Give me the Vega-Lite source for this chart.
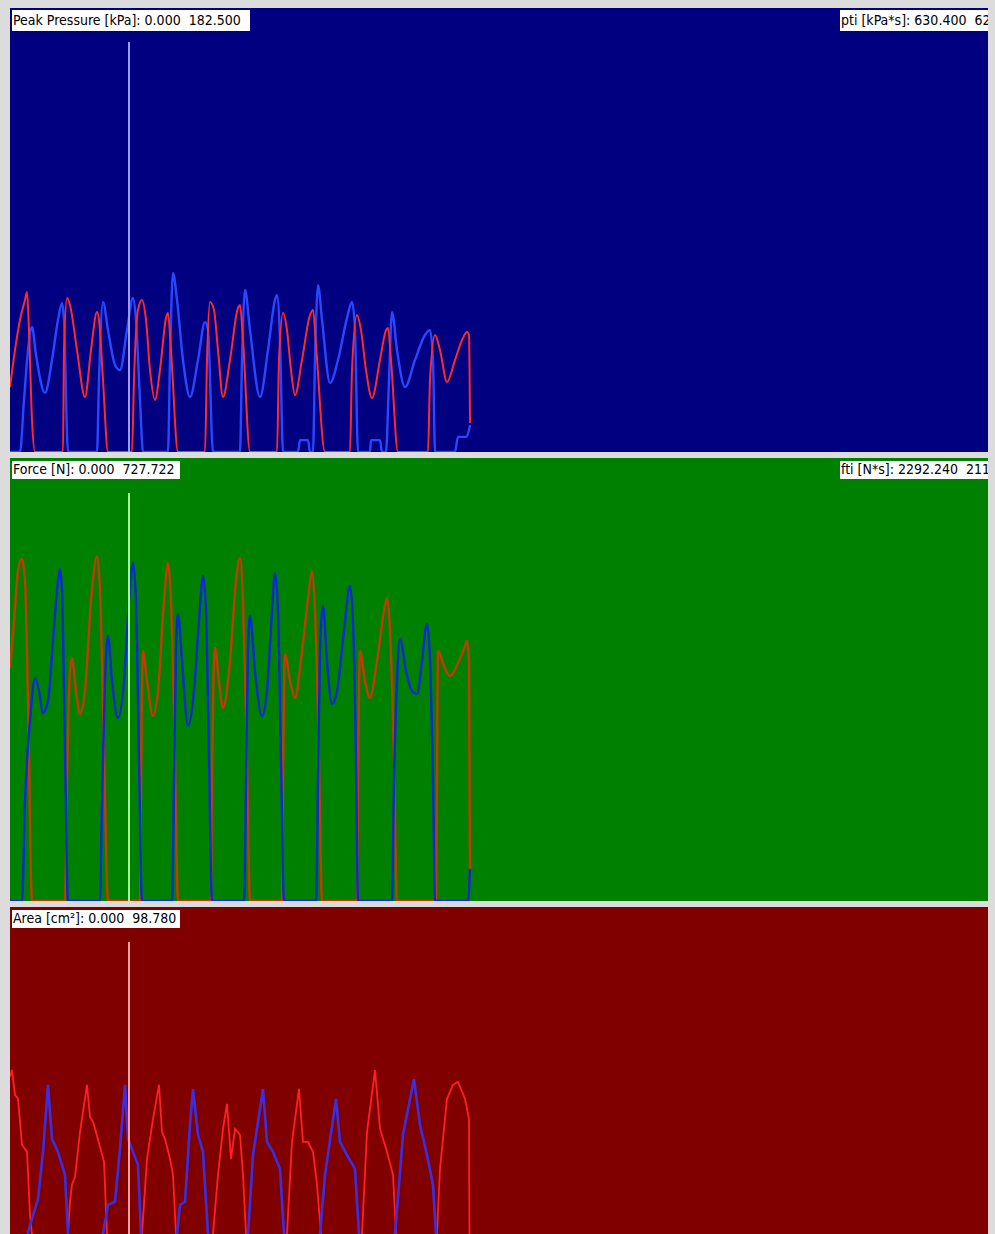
{
  "$schema": "https://vega.github.io/schema/vega-lite/v6.json",
  "background": "#dcdcdc",
  "padding": {"left": 10, "top": 8, "right": 7, "bottom": 0},
  "spacing": 5,
  "config": {"view": {"stroke": null}, "concat": {"spacing": 5}},
  "resolve": {"scale": {"x": "independent", "y": "independent"}},
  "datasets": {
    "pressure": [
      {"t":0,"foot":"right","v":0},{"t":10,"foot":"right","v":0},{"t":14,"foot":"right","v":21.4},{"t":18,"foot":"right","v":41.9},{"t":22,"foot":"right","v":51.4},{"t":26,"foot":"right","v":39.9},{"t":35,"foot":"right","v":24.3},{"t":42,"foot":"right","v":37.8},{"t":48,"foot":"right","v":54.3},{"t":52,"foot":"right","v":61.2},{"t":54,"foot":"right","v":54.3},{"t":58,"foot":"right","v":0},
      {"t":87,"foot":"right","v":0},{"t":89,"foot":"right","v":29.6},{"t":93,"foot":"right","v":61.7},{"t":98,"foot":"right","v":50.1},{"t":105,"foot":"right","v":35.8},{"t":110,"foot":"right","v":33.7},{"t":117,"foot":"right","v":50.1},{"t":123,"foot":"right","v":63.3},{"t":126,"foot":"right","v":54.3},{"t":130,"foot":"right","v":21.4},{"t":133,"foot":"right","v":0},
      {"t":158,"foot":"right","v":0},{"t":160,"foot":"right","v":37.8},{"t":163,"foot":"right","v":73.6},{"t":167,"foot":"right","v":62.5},{"t":173,"foot":"right","v":37.8},{"t":180,"foot":"right","v":22.6},{"t":188,"foot":"right","v":37.8},{"t":195,"foot":"right","v":53.4},{"t":198,"foot":"right","v":50.1},{"t":203,"foot":"right","v":0},
      {"t":230,"foot":"right","v":0},{"t":232,"foot":"right","v":37.8},{"t":235,"foot":"right","v":66.6},{"t":240,"foot":"right","v":50.1},{"t":250,"foot":"right","v":22.6},{"t":258,"foot":"right","v":41.9},{"t":265,"foot":"right","v":62.5},{"t":267,"foot":"right","v":64.5},{"t":270,"foot":"right","v":46.0},{"t":273,"foot":"right","v":0},
      {"t":288,"foot":"right","v":0},{"t":290,"foot":"right","v":4.9},{"t":298,"foot":"right","v":4.9},{"t":300,"foot":"right","v":0},{"t":303,"foot":"right","v":0},{"t":305,"foot":"right","v":37.8},{"t":308,"foot":"right","v":68.6},{"t":312,"foot":"right","v":54.3},{"t":320,"foot":"right","v":28.4},{"t":328,"foot":"right","v":37.8},{"t":337,"foot":"right","v":55.1},{"t":342,"foot":"right","v":61.7},{"t":345,"foot":"right","v":50.1},{"t":348,"foot":"right","v":0},
      {"t":360,"foot":"right","v":0},{"t":361,"foot":"right","v":4.9},{"t":370,"foot":"right","v":4.9},{"t":372,"foot":"right","v":0},{"t":376,"foot":"right","v":0},{"t":379,"foot":"right","v":29.6},{"t":382,"foot":"right","v":57.5},{"t":387,"foot":"right","v":41.9},{"t":395,"foot":"right","v":26.7},{"t":405,"foot":"right","v":37.8},{"t":415,"foot":"right","v":48.1},{"t":420,"foot":"right","v":50.1},{"t":423,"foot":"right","v":37.8},{"t":425,"foot":"right","v":0},
      {"t":445,"foot":"right","v":0},{"t":448,"foot":"right","v":6.2},{"t":456,"foot":"right","v":6.2},{"t":459,"foot":"right","v":9.0},{"t":460,"foot":"right","v":11.1},
      {"t":0,"foot":"left","v":26.7},{"t":5,"foot":"left","v":41.9},{"t":10,"foot":"left","v":54.3},{"t":15,"foot":"left","v":62.5},{"t":17,"foot":"left","v":65.8},{"t":19,"foot":"left","v":50.1},{"t":22,"foot":"left","v":13.2},{"t":25,"foot":"left","v":0},
      {"t":53,"foot":"left","v":0},{"t":54,"foot":"left","v":41.9},{"t":57,"foot":"left","v":63.3},{"t":60,"foot":"left","v":60.4},{"t":67,"foot":"left","v":41.9},{"t":75,"foot":"left","v":22.6},{"t":81,"foot":"left","v":41.9},{"t":87,"foot":"left","v":57.5},{"t":89,"foot":"left","v":54.3},{"t":93,"foot":"left","v":29.6},{"t":98,"foot":"left","v":0},
      {"t":122,"foot":"left","v":0},{"t":124,"foot":"left","v":29.6},{"t":128,"foot":"left","v":58.4},{"t":132,"foot":"left","v":62.5},{"t":136,"foot":"left","v":54.3},{"t":140,"foot":"left","v":33.7},{"t":145,"foot":"left","v":21.4},{"t":150,"foot":"left","v":33.7},{"t":156,"foot":"left","v":55.1},{"t":158,"foot":"left","v":57.1},{"t":161,"foot":"left","v":41.9},{"t":168,"foot":"left","v":0},
      {"t":195,"foot":"left","v":0},{"t":197,"foot":"left","v":37.8},{"t":200,"foot":"left","v":61.7},{"t":204,"foot":"left","v":58.4},{"t":208,"foot":"left","v":41.9},{"t":213,"foot":"left","v":22.6},{"t":220,"foot":"left","v":37.8},{"t":228,"foot":"left","v":59.2},{"t":230,"foot":"left","v":60.4},{"t":233,"foot":"left","v":46.0},{"t":240,"foot":"left","v":0},
      {"t":267,"foot":"left","v":0},{"t":269,"foot":"left","v":37.8},{"t":273,"foot":"left","v":57.1},{"t":277,"foot":"left","v":50.1},{"t":281,"foot":"left","v":33.7},{"t":285,"foot":"left","v":23.4},{"t":292,"foot":"left","v":37.8},{"t":300,"foot":"left","v":56.3},{"t":303,"foot":"left","v":58.4},{"t":306,"foot":"left","v":44.0},{"t":315,"foot":"left","v":0},
      {"t":340,"foot":"left","v":0},{"t":342,"foot":"left","v":33.7},{"t":347,"foot":"left","v":56.3},{"t":351,"foot":"left","v":50.1},{"t":356,"foot":"left","v":33.7},{"t":362,"foot":"left","v":22.2},{"t":370,"foot":"left","v":37.8},{"t":376,"foot":"left","v":50.1},{"t":378,"foot":"left","v":51.0},{"t":381,"foot":"left","v":37.8},{"t":388,"foot":"left","v":0},
      {"t":418,"foot":"left","v":0},{"t":420,"foot":"left","v":29.6},{"t":425,"foot":"left","v":48.1},{"t":430,"foot":"left","v":41.9},{"t":437,"foot":"left","v":28.8},{"t":445,"foot":"left","v":37.8},{"t":453,"foot":"left","v":46.9},{"t":457,"foot":"left","v":49.3},{"t":459,"foot":"left","v":48.1},{"t":460,"foot":"left","v":11.9}
    ],
    "force": [
      {"t":0,"foot":"left","v":382.7},{"t":4,"foot":"left","v":460.0},{"t":8,"foot":"left","v":542.1},{"t":12,"foot":"left","v":561.8},{"t":15,"foot":"left","v":525.7},{"t":18,"foot":"left","v":328.5},{"t":22,"foot":"left","v":0},
      {"t":55,"foot":"left","v":0},{"t":57,"foot":"left","v":197.1},{"t":60,"foot":"left","v":377.8},{"t":62,"foot":"left","v":399.2},{"t":66,"foot":"left","v":345.0},{"t":70,"foot":"left","v":307.2},{"t":75,"foot":"left","v":345.0},{"t":81,"foot":"left","v":492.8},{"t":87,"foot":"left","v":566.7},{"t":90,"foot":"left","v":509.2},{"t":94,"foot":"left","v":246.4},{"t":98,"foot":"left","v":0},
      {"t":130,"foot":"left","v":0},{"t":131,"foot":"left","v":197.1},{"t":133,"foot":"left","v":410.7},{"t":137,"foot":"left","v":361.4},{"t":143,"foot":"left","v":303.9},{"t":148,"foot":"left","v":345.0},{"t":154,"foot":"left","v":492.8},{"t":158,"foot":"left","v":555.2},{"t":161,"foot":"left","v":492.8},{"t":165,"foot":"left","v":230.0},{"t":168,"foot":"left","v":0},
      {"t":201,"foot":"left","v":0},{"t":202,"foot":"left","v":197.1},{"t":205,"foot":"left","v":415.6},{"t":209,"foot":"left","v":361.4},{"t":213,"foot":"left","v":317.0},{"t":220,"foot":"left","v":394.2},{"t":226,"foot":"left","v":525.7},{"t":230,"foot":"left","v":563.4},{"t":233,"foot":"left","v":492.8},{"t":237,"foot":"left","v":230.0},{"t":240,"foot":"left","v":0},
      {"t":272,"foot":"left","v":0},{"t":273,"foot":"left","v":197.1},{"t":275,"foot":"left","v":405.7},{"t":280,"foot":"left","v":361.4},{"t":285,"foot":"left","v":333.5},{"t":292,"foot":"left","v":410.7},{"t":299,"foot":"left","v":509.2},{"t":302,"foot":"left","v":542.1},{"t":305,"foot":"left","v":476.4},{"t":309,"foot":"left","v":230.0},{"t":312,"foot":"left","v":0},
      {"t":347,"foot":"left","v":0},{"t":348,"foot":"left","v":197.1},{"t":350,"foot":"left","v":410.7},{"t":355,"foot":"left","v":361.4},{"t":360,"foot":"left","v":333.5},{"t":367,"foot":"left","v":394.2},{"t":374,"foot":"left","v":476.4},{"t":377,"foot":"left","v":497.7},{"t":380,"foot":"left","v":443.5},{"t":384,"foot":"left","v":230.0},{"t":387,"foot":"left","v":0},
      {"t":426,"foot":"left","v":0},{"t":427,"foot":"left","v":197.1},{"t":428,"foot":"left","v":410.7},{"t":434,"foot":"left","v":386.0},{"t":440,"foot":"left","v":369.6},{"t":448,"foot":"left","v":391.0},{"t":455,"foot":"left","v":418.9},{"t":457,"foot":"left","v":427.1},{"t":459,"foot":"left","v":394.2},{"t":460,"foot":"left","v":32.9},
      {"t":0,"foot":"right","v":0},{"t":12,"foot":"right","v":0},{"t":15,"foot":"right","v":164.3},{"t":20,"foot":"right","v":295.7},{"t":25,"foot":"right","v":366.3},{"t":29,"foot":"right","v":345.0},{"t":33,"foot":"right","v":308.8},{"t":38,"foot":"right","v":328.5},{"t":43,"foot":"right","v":427.1},{"t":48,"foot":"right","v":525.7},{"t":50,"foot":"right","v":545.4},{"t":52,"foot":"right","v":509.2},{"t":55,"foot":"right","v":246.4},{"t":58,"foot":"right","v":0},
      {"t":90,"foot":"right","v":0},{"t":92,"foot":"right","v":164.3},{"t":95,"foot":"right","v":361.4},{"t":98,"foot":"right","v":435.3},{"t":102,"foot":"right","v":361.4},{"t":108,"foot":"right","v":300.6},{"t":114,"foot":"right","v":361.4},{"t":119,"foot":"right","v":492.8},{"t":123,"foot":"right","v":555.2},{"t":126,"foot":"right","v":492.8},{"t":129,"foot":"right","v":230.0},{"t":132,"foot":"right","v":0},
      {"t":162,"foot":"right","v":0},{"t":164,"foot":"right","v":197.1},{"t":166,"foot":"right","v":410.7},{"t":168,"foot":"right","v":471.5},{"t":172,"foot":"right","v":394.2},{"t":178,"foot":"right","v":287.5},{"t":184,"foot":"right","v":345.0},{"t":189,"foot":"right","v":460.0},{"t":193,"foot":"right","v":533.9},{"t":196,"foot":"right","v":476.4},{"t":199,"foot":"right","v":230.0},{"t":202,"foot":"right","v":0},
      {"t":234,"foot":"right","v":0},{"t":236,"foot":"right","v":197.1},{"t":238,"foot":"right","v":410.7},{"t":240,"foot":"right","v":468.2},{"t":245,"foot":"right","v":377.8},{"t":252,"foot":"right","v":303.9},{"t":257,"foot":"right","v":345.0},{"t":262,"foot":"right","v":476.4},{"t":265,"foot":"right","v":538.8},{"t":268,"foot":"right","v":476.4},{"t":271,"foot":"right","v":230.0},{"t":274,"foot":"right","v":0},
      {"t":306,"foot":"right","v":0},{"t":308,"foot":"right","v":197.1},{"t":310,"foot":"right","v":410.7},{"t":313,"foot":"right","v":484.6},{"t":317,"foot":"right","v":394.2},{"t":322,"foot":"right","v":323.6},{"t":327,"foot":"right","v":345.0},{"t":334,"foot":"right","v":443.5},{"t":340,"foot":"right","v":517.5},{"t":343,"foot":"right","v":460.0},{"t":346,"foot":"right","v":230.0},{"t":348,"foot":"right","v":0},
      {"t":382,"foot":"right","v":0},{"t":384,"foot":"right","v":197.1},{"t":387,"foot":"right","v":361.4},{"t":390,"foot":"right","v":430.4},{"t":396,"foot":"right","v":377.8},{"t":402,"foot":"right","v":345.0},{"t":407,"foot":"right","v":340.0},{"t":412,"foot":"right","v":394.2},{"t":417,"foot":"right","v":455.0},{"t":420,"foot":"right","v":394.2},{"t":423,"foot":"right","v":197.1},{"t":425,"foot":"right","v":0},
      {"t":458,"foot":"right","v":0},{"t":460,"foot":"right","v":52.6}
    ],
    "area": [
      {"t":0,"foot":"left","v":61.0},{"t":2,"foot":"left","v":62.5},{"t":5,"foot":"left","v":57.0},{"t":8,"foot":"left","v":56.1},{"t":12,"foot":"left","v":45.9},{"t":17,"foot":"left","v":44.3},{"t":20,"foot":"left","v":30.3},{"t":22,"foot":"left","v":25.8},{"t":23,"foot":"left","v":0},
      {"t":57,"foot":"left","v":0},{"t":58,"foot":"left","v":26},{"t":60,"foot":"left","v":33.2},{"t":62,"foot":"left","v":37.0},{"t":65,"foot":"left","v":38.7},{"t":70,"foot":"left","v":48.7},{"t":77,"foot":"left","v":59.2},{"t":80,"foot":"left","v":52.1},{"t":83,"foot":"left","v":51.0},{"t":86,"foot":"left","v":48.7},{"t":90,"foot":"left","v":45.4},{"t":94,"foot":"left","v":42.1},{"t":97,"foot":"left","v":26},{"t":98,"foot":"left","v":0},
      {"t":131,"foot":"left","v":0},{"t":132,"foot":"left","v":26},{"t":137,"foot":"left","v":42.7},{"t":143,"foot":"left","v":51.6},{"t":149,"foot":"left","v":59.2},{"t":152,"foot":"left","v":48.7},{"t":155,"foot":"left","v":47.2},{"t":160,"foot":"left","v":42.7},{"t":163,"foot":"left","v":39.2},{"t":166,"foot":"left","v":26},{"t":167,"foot":"left","v":0},
      {"t":202,"foot":"left","v":0},{"t":203,"foot":"left","v":26},{"t":208,"foot":"left","v":39.2},{"t":213,"foot":"left","v":49.4},{"t":217,"foot":"left","v":55.0},{"t":221,"foot":"left","v":42.7},{"t":225,"foot":"left","v":49.4},{"t":230,"foot":"left","v":48.1},{"t":233,"foot":"left","v":39.2},{"t":236,"foot":"left","v":26},{"t":237,"foot":"left","v":0},
      {"t":276,"foot":"left","v":0},{"t":277,"foot":"left","v":26},{"t":282,"foot":"left","v":46.5},{"t":289,"foot":"left","v":58.3},{"t":293,"foot":"left","v":46.5},{"t":298,"foot":"left","v":46.5},{"t":303,"foot":"left","v":44.3},{"t":307,"foot":"left","v":37.0},{"t":311,"foot":"left","v":26},{"t":312,"foot":"left","v":0},
      {"t":351,"foot":"left","v":0},{"t":352,"foot":"left","v":26},{"t":357,"foot":"left","v":48.7},{"t":365,"foot":"left","v":62.5},{"t":370,"foot":"left","v":49.4},{"t":377,"foot":"left","v":44.3},{"t":383,"foot":"left","v":39.2},{"t":386,"foot":"left","v":26},{"t":387,"foot":"left","v":0},
      {"t":426,"foot":"left","v":0},{"t":427,"foot":"left","v":26},{"t":430,"foot":"left","v":40.5},{"t":437,"foot":"left","v":56.1},{"t":443,"foot":"left","v":59.2},{"t":448,"foot":"left","v":59.9},{"t":455,"foot":"left","v":56.1},{"t":459,"foot":"left","v":51.6},{"t":460,"foot":"left","v":0},
      {"t":0,"foot":"right","v":0},{"t":17,"foot":"right","v":0},{"t":18,"foot":"right","v":26.5},{"t":28,"foot":"right","v":33.8},{"t":33,"foot":"right","v":44.3},{"t":38,"foot":"right","v":59.2},{"t":42,"foot":"right","v":47.2},{"t":48,"foot":"right","v":44.3},{"t":55,"foot":"right","v":39.2},{"t":58,"foot":"right","v":26},{"t":59,"foot":"right","v":0},
      {"t":92,"foot":"right","v":0},{"t":93,"foot":"right","v":26},{"t":98,"foot":"right","v":32.5},{"t":105,"foot":"right","v":33.2},{"t":110,"foot":"right","v":45.0},{"t":115,"foot":"right","v":59.2},{"t":118,"foot":"right","v":47.2},{"t":123,"foot":"right","v":44.3},{"t":128,"foot":"right","v":41.4},{"t":131,"foot":"right","v":26},{"t":132,"foot":"right","v":0},
      {"t":166,"foot":"right","v":0},{"t":167,"foot":"right","v":26},{"t":170,"foot":"right","v":32.5},{"t":175,"foot":"right","v":33.2},{"t":180,"foot":"right","v":50.3},{"t":183,"foot":"right","v":58.3},{"t":188,"foot":"right","v":48.1},{"t":193,"foot":"right","v":44.3},{"t":196,"foot":"right","v":33.2},{"t":198,"foot":"right","v":26},{"t":199,"foot":"right","v":0},
      {"t":237,"foot":"right","v":0},{"t":238,"foot":"right","v":26},{"t":243,"foot":"right","v":43.6},{"t":253,"foot":"right","v":58.3},{"t":257,"foot":"right","v":46.5},{"t":263,"foot":"right","v":44.3},{"t":270,"foot":"right","v":40.5},{"t":274,"foot":"right","v":26},{"t":275,"foot":"right","v":0},
      {"t":309,"foot":"right","v":0},{"t":310,"foot":"right","v":26},{"t":315,"foot":"right","v":39.2},{"t":326,"foot":"right","v":56.1},{"t":330,"foot":"right","v":46.5},{"t":337,"foot":"right","v":43.6},{"t":345,"foot":"right","v":40.5},{"t":349,"foot":"right","v":26},{"t":350,"foot":"right","v":0},
      {"t":384,"foot":"right","v":0},{"t":385,"foot":"right","v":26},{"t":393,"foot":"right","v":48.1},{"t":404,"foot":"right","v":60.5},{"t":410,"foot":"right","v":50.3},{"t":417,"foot":"right","v":43.6},{"t":423,"foot":"right","v":37.0},{"t":426,"foot":"right","v":26},{"t":427,"foot":"right","v":0}
    ],
    "cursor": [{"t": 119}],
    "labels": [
      {"panel": "pressure", "side": "left", "label": "Peak Pressure [kPa]: 0.000\u00a0\u00a0182.500"},
      {"panel": "pressure", "side": "right", "label": "pti [kPa*s]: 630.400\u00a0\u00a0627.520"},
      {"panel": "force", "side": "left", "label": "Force [N]: 0.000\u00a0\u00a0727.722"},
      {"panel": "force", "side": "right", "label": "fti [N*s]: 2292.240\u00a0\u00a02119.360"},
      {"panel": "area", "side": "left", "label": "Area [cm²]: 0.000\u00a0\u00a098.780"}
    ]
  },
  "vconcat": [
    {
      "width": 978, "height": 444,
      "view": {"fill": "#000080", "stroke": null},
      "layer": [
        {"data": {"name": "pressure"}, "transform": [{"filter": "datum.foot == 'right'"}],
         "mark": {"type": "line", "color": "#2848ff", "strokeWidth": 2.4, "interpolate": "monotone", "clip": true},
         "encoding": {"x": {"field": "t", "type": "quantitative", "scale": {"domain": [0, 978], "nice": false, "zero": false}, "axis": null},
                      "y": {"field": "v", "type": "quantitative", "scale": {"domain": [0, 182.5], "nice": false, "zero": false}, "axis": null}}},
        {"data": {"name": "pressure"}, "transform": [{"filter": "datum.foot == 'left'"}],
         "mark": {"type": "line", "color": "#ff2a2a", "strokeWidth": 2, "interpolate": "monotone", "clip": true},
         "encoding": {"x": {"field": "t", "type": "quantitative"}, "y": {"field": "v", "type": "quantitative"}}},
        {"data": {"name": "cursor"},
         "mark": {"type": "rule", "color": "#9c9cff", "strokeWidth": 2},
         "encoding": {"x": {"field": "t", "type": "quantitative"}, "y": {"datum": 168.5, "type": "quantitative"}, "y2": {"datum": 0}}},
        {"data": {"name": "labels"}, "transform": [{"filter": "datum.panel == 'pressure' && datum.side == 'left'"}],
         "mark": {"type": "rect", "color": "white", "clip": true},
         "encoding": {"x": {"datum": 2, "type": "quantitative"}, "x2": {"datum": 240}, "y": {"datum": 181.7, "type": "quantitative"}, "y2": {"datum": 173.0}}},
        {"data": {"name": "labels"}, "transform": [{"filter": "datum.panel == 'pressure' && datum.side == 'right'"}],
         "mark": {"type": "rect", "color": "white", "clip": true},
         "encoding": {"x": {"datum": 830, "type": "quantitative"}, "x2": {"datum": 1000}, "y": {"datum": 181.7, "type": "quantitative"}, "y2": {"datum": 173.0}}},
        {"data": {"name": "labels"}, "transform": [{"filter": "datum.panel == 'pressure' && datum.side == 'left'"}],
         "mark": {"type": "text", "align": "left", "baseline": "middle", "font": "DejaVu Sans Condensed, sans-serif", "fontSize": 14, "color": "black", "clip": true},
         "encoding": {"x": {"datum": 3, "type": "quantitative"}, "y": {"datum": 177.3, "type": "quantitative"}, "text": {"field": "label"}}},
        {"data": {"name": "labels"}, "transform": [{"filter": "datum.panel == 'pressure' && datum.side == 'right'"}],
         "mark": {"type": "text", "align": "left", "baseline": "middle", "font": "DejaVu Sans Condensed, sans-serif", "fontSize": 14, "color": "black", "clip": true},
         "encoding": {"x": {"datum": 831, "type": "quantitative"}, "y": {"datum": 177.3, "type": "quantitative"}, "text": {"field": "label"}}}
      ]
    },
    {
      "width": 978, "height": 443,
      "view": {"fill": "#008000", "stroke": null},
      "layer": [
        {"data": {"name": "force"}, "transform": [{"filter": "datum.foot == 'left'"}],
         "mark": {"type": "line", "color": "#c03c00", "strokeWidth": 2.4, "interpolate": "monotone", "clip": true},
         "encoding": {"x": {"field": "t", "type": "quantitative", "scale": {"domain": [0, 978], "nice": false, "zero": false}, "axis": null},
                      "y": {"field": "v", "type": "quantitative", "scale": {"domain": [0, 727.722], "nice": false, "zero": false}, "axis": null}}},
        {"data": {"name": "force"}, "transform": [{"filter": "datum.foot == 'right'"}],
         "mark": {"type": "line", "color": "#0a2ad2", "strokeWidth": 2.4, "interpolate": "monotone", "clip": true},
         "encoding": {"x": {"field": "t", "type": "quantitative"}, "y": {"field": "v", "type": "quantitative"}}},
        {"data": {"name": "cursor"},
         "mark": {"type": "rule", "color": "#a0ff90", "strokeWidth": 2},
         "encoding": {"x": {"field": "t", "type": "quantitative"}, "y": {"datum": 670.2, "type": "quantitative"}, "y2": {"datum": 0}}},
        {"data": {"name": "labels"}, "transform": [{"filter": "datum.panel == 'force' && datum.side == 'left'"}],
         "mark": {"type": "rect", "color": "white", "clip": true},
         "encoding": {"x": {"datum": 2, "type": "quantitative"}, "x2": {"datum": 170}, "y": {"datum": 722.8, "type": "quantitative"}, "y2": {"datum": 693.2}}},
        {"data": {"name": "labels"}, "transform": [{"filter": "datum.panel == 'force' && datum.side == 'right'"}],
         "mark": {"type": "rect", "color": "white", "clip": true},
         "encoding": {"x": {"datum": 830, "type": "quantitative"}, "x2": {"datum": 1000}, "y": {"datum": 722.8, "type": "quantitative"}, "y2": {"datum": 693.2}}},
        {"data": {"name": "labels"}, "transform": [{"filter": "datum.panel == 'force' && datum.side == 'left'"}],
         "mark": {"type": "text", "align": "left", "baseline": "middle", "font": "DejaVu Sans Condensed, sans-serif", "fontSize": 14, "color": "black", "clip": true},
         "encoding": {"x": {"datum": 3, "type": "quantitative"}, "y": {"datum": 708.0, "type": "quantitative"}, "text": {"field": "label"}}},
        {"data": {"name": "labels"}, "transform": [{"filter": "datum.panel == 'force' && datum.side == 'right'"}],
         "mark": {"type": "text", "align": "left", "baseline": "middle", "font": "DejaVu Sans Condensed, sans-serif", "fontSize": 14, "color": "black", "clip": true},
         "encoding": {"x": {"datum": 831, "type": "quantitative"}, "y": {"datum": 708.0, "type": "quantitative"}, "text": {"field": "label"}}}
      ]
    },
    {
      "width": 978, "height": 329,
      "view": {"fill": "#800000", "stroke": null},
      "layer": [
        {"data": {"name": "area"}, "transform": [{"filter": "datum.foot == 'left'"}],
         "mark": {"type": "line", "color": "#ff2020", "strokeWidth": 1.8, "clip": true},
         "encoding": {"x": {"field": "t", "type": "quantitative", "scale": {"domain": [0, 978], "nice": false, "zero": false}, "axis": null},
                      "y": {"field": "v", "type": "quantitative", "scale": {"domain": [25.58, 98.78], "nice": false, "zero": false}, "axis": null}}},
        {"data": {"name": "area"}, "transform": [{"filter": "datum.foot == 'right'"}],
         "mark": {"type": "line", "color": "#3a2ee0", "strokeWidth": 2.6, "clip": true},
         "encoding": {"x": {"field": "t", "type": "quantitative"}, "y": {"field": "v", "type": "quantitative"}}},
        {"data": {"name": "cursor"},
         "mark": {"type": "rule", "color": "#ffa0a0", "strokeWidth": 2, "clip": true},
         "encoding": {"x": {"field": "t", "type": "quantitative"}, "y": {"datum": 91.0, "type": "quantitative"}, "y2": {"datum": 25.58}}},
        {"data": {"name": "labels"}, "transform": [{"filter": "datum.panel == 'area' && datum.side == 'left'"}],
         "mark": {"type": "rect", "color": "white", "clip": true},
         "encoding": {"x": {"datum": 2, "type": "quantitative"}, "x2": {"datum": 170}, "y": {"datum": 98.11, "type": "quantitative"}, "y2": {"datum": 94.11}}},
        {"data": {"name": "labels"}, "transform": [{"filter": "datum.panel == 'area' && datum.side == 'left'"}],
         "mark": {"type": "text", "align": "left", "baseline": "middle", "font": "DejaVu Sans Condensed, sans-serif", "fontSize": 14, "color": "black", "clip": true},
         "encoding": {"x": {"datum": 3, "type": "quantitative"}, "y": {"datum": 96.11, "type": "quantitative"}, "text": {"field": "label"}}}
      ]
    }
  ]
}
